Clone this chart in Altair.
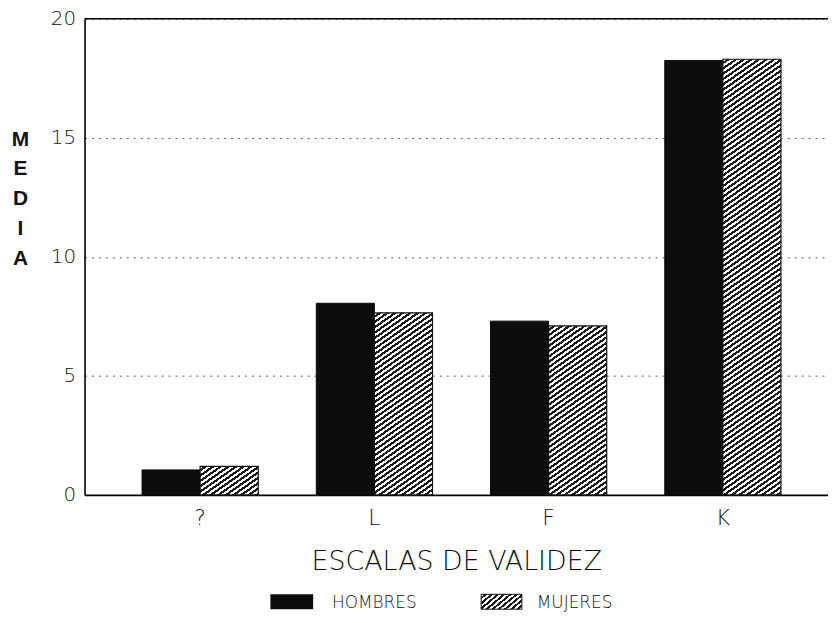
import math
import altair as alt
import pandas as pd

categories = ["?", "L", "F", "K"]
hombres = [1.05, 8.05, 7.3, 18.25]
mujeres = [1.2, 7.65, 7.1, 18.3]
series = ["HOMBRES", "MUJERES"]
y_ticks = [0, 5, 10, 15, 20]

W, H = 748, 479
TOP = 9
P_IN, P_OUT = 0.333, 0.3
FONT = "DejaVu Sans"
FW = 200

rows = []
for c, hv, mv in zip(categories, hombres, mujeres):
    rows.append({"escala": c, "sexo": series[0], "media": hv})
    rows.append({"escala": c, "sexo": series[1], "media": mv})
df = pd.DataFrame(rows)


def hatch(w, h, period=4.4, angle=35, frac=0.5, dark="#1a1a1a", light="white"):
    s, c = math.sin(math.radians(angle)), math.cos(math.radians(angle))
    L = w * s + h * c
    k = L / ((w * s) ** 2 + (h * c) ** 2)
    a, b = k * w * s, k * h * c
    stops = []
    i = 0
    while i * period < L:
        t0 = i * period / L
        t1 = min((i * period + frac * period) / L, 1)
        t2 = min((i + 1) * period / L, 1)
        stops += [{"offset": t0, "color": light}, {"offset": t1, "color": light},
                  {"offset": t1, "color": dark}, {"offset": t2, "color": dark}]
        i += 1
    return {"gradient": "linear", "x1": 0, "y1": 0, "x2": a, "y2": b, "stops": stops}


step = W / (len(categories) - P_IN + 2 * P_OUT)
sub_w = (1 - P_IN) * step / 2

x_enc = alt.X("escala:N", sort=categories,
              scale=alt.Scale(paddingInner=P_IN, paddingOuter=P_OUT, align=0.55),
              axis=alt.Axis(title="ESCALAS DE VALIDEZ", labelAngle=0, ticks=False,
                            domainColor="black", domainWidth=1.6,
                            labelFontSize=22, labelPadding=13, labelColor="#111",
                            titleFontSize=27, titleFontWeight=FW, titleColor="#111",
                            titleBaseline="alphabetic", titleY=75))
xo_enc = alt.XOffset("sexo:N", sort=series, scale=alt.Scale(paddingInner=0, paddingOuter=0))
y_enc = alt.Y("media:Q", scale=alt.Scale(domain=[0, 20], nice=False),
              axis=alt.Axis(values=y_ticks, ticks=False, domainColor="black", domainWidth=1.6,
                            labelFontSize=20, labelPadding=9, labelColor="#111",
                            grid=True, gridDash=[2, 5], gridColor="#333", gridOpacity=0.8,
                            title=["M", "E", "D", "I", "A"], titleAngle=0,
                            titleFont="Liberation Sans", titleFontWeight="bold",
                            titleFontSize=21, titleLineHeight=30, titleColor="#111",
                            titleAlign="center", titleBaseline="alphabetic",
                            titleX=-65, titleY=127))

base = alt.Chart(df)

layers = [
    base.transform_filter(alt.datum.sexo == series[0]).mark_bar(
        fill="#0d0d0d", stroke="#0d0d0d", strokeWidth=1
    ).encode(x=x_enc, xOffset=xo_enc, y=y_enc)
]
for c, mv in zip(categories, mujeres):
    grad = hatch(sub_w, mv * H / 20)
    layers.append(
        base.transform_filter((alt.datum.sexo == series[1]) & (alt.datum.escala == c)).mark_bar(
            fill=grad, stroke="#111", strokeWidth=1.2
        ).encode(x=x_enc, xOffset=xo_enc, y=y_enc)
    )

top = alt.Chart(pd.DataFrame({"media": [20]})).mark_rule(color="black", strokeWidth=1.6).encode(
    y=alt.Y("media:Q"))
layers.append(top)

# legend
leg_y0, leg_y1 = 596 - 8 - TOP, 611 - 8 - TOP
sw = [(272 - 85, 315 - 85), (484 - 85, 525 - 85)]
tx = [334 - 85, 540 - 85]
leg_rect_h = alt.Chart(pd.DataFrame({"s": [series[0]]})).mark_rect(fill="#0d0d0d").encode(
    x=alt.value(sw[0][0]), x2=alt.value(sw[0][1]), y=alt.value(leg_y0), y2=alt.value(leg_y1))
leg_rect_m = alt.Chart(pd.DataFrame({"s": [series[1]]})).mark_rect(
    fill=hatch(sw[1][1] - sw[1][0], leg_y1 - leg_y0, period=4.0, angle=40), stroke="#111", strokeWidth=1
).encode(x=alt.value(sw[1][0]), x2=alt.value(sw[1][1]), y=alt.value(leg_y0), y2=alt.value(leg_y1))
leg_text = [
    alt.Chart(pd.DataFrame({"s": [s]})).mark_text(
        align="left", baseline="alphabetic", fontSize=17, font=FONT, fontWeight=FW, color="#111"
    ).encode(text="s:N", x=alt.value(x), y=alt.value(leg_y1 - 1))
    for s, x in zip(series, tx)
]
layers += [leg_rect_h, leg_rect_m] + leg_text

chart = alt.layer(*layers).properties(
    width=W, height=H,
    autosize=alt.AutoSizeParams(type="none"),
    padding={"left": 77, "top": TOP, "right": 0, "bottom": 126},
).configure_view(stroke=None).configure_axis(
    labelFont=FONT, titleFont=FONT, labelFontWeight=FW
)

chart.save("out.html", embed_options={"renderer": "svg", "actions": False})
